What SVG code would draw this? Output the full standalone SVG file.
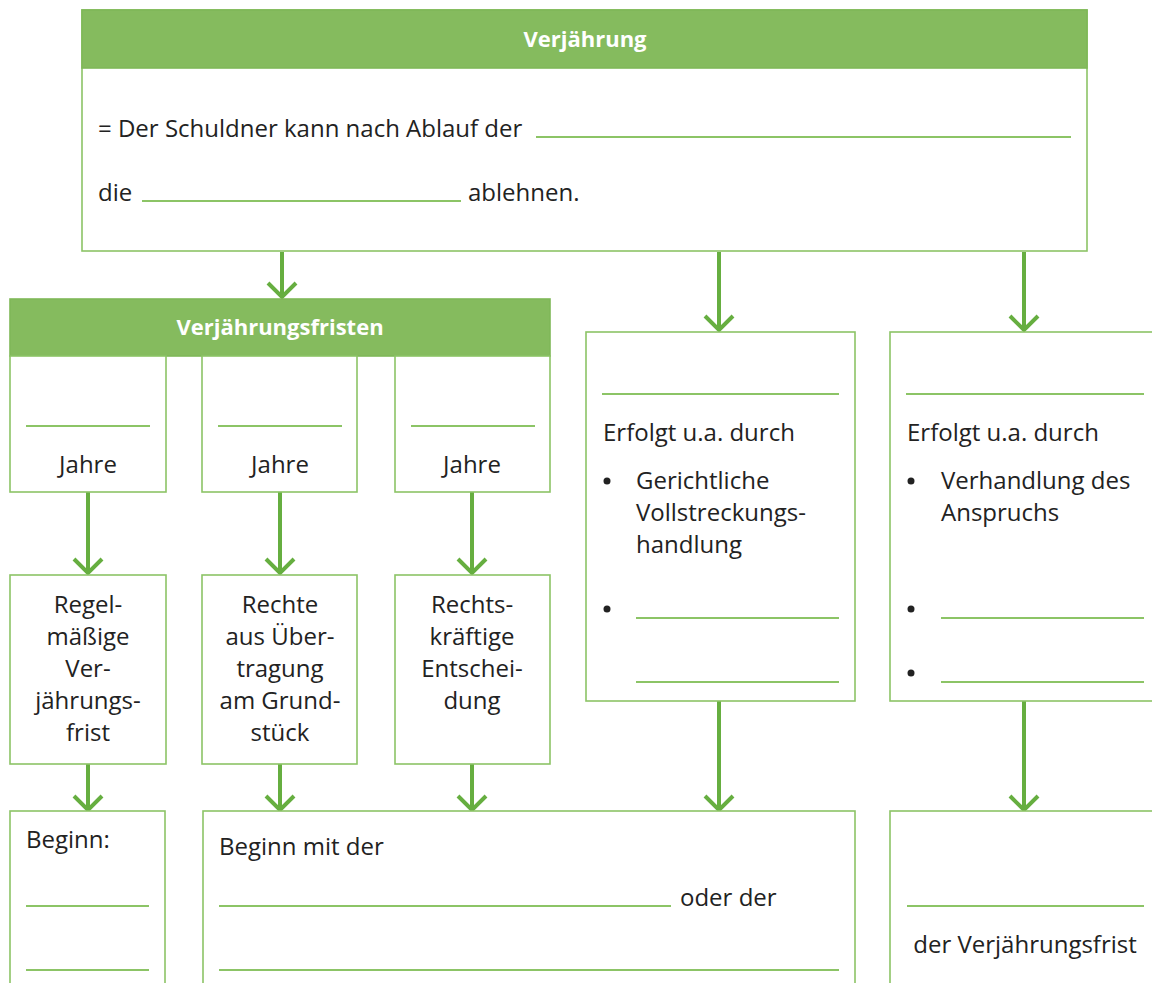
<svg xmlns="http://www.w3.org/2000/svg" width="1152" height="983" viewBox="0 0 1152 983">
<defs>
<style>
.box{fill:#fff;stroke:#8cc466;stroke-width:1.6}
.head{fill:#85bb5e;stroke:#7fb858;stroke-width:1.6}
.ht{font-family:"Open Sans","Liberation Sans",sans-serif;font-size:22px;font-weight:bold;fill:#fff;text-anchor:middle}
.t{font-family:"Open Sans","Liberation Sans",sans-serif;font-size:24px;fill:#222}
.c{text-anchor:middle}
.ul{stroke:#8cc466;stroke-width:2}
.arr{stroke:#66ae40;stroke-width:4;fill:none}
</style>
<marker id="chev" markerUnits="userSpaceOnUse" markerWidth="24" markerHeight="36" viewBox="-20 -18 24 36" refX="0" refY="0" orient="auto">
<path d="M-14,-13 L0,1 L14,-13" fill="none" stroke="#66ae40" stroke-width="4" transform="rotate(-90)"/>
</marker>
</defs>
<rect width="1152" height="983" fill="#fff"/>

<g id="connectors">
<line class="arr" x1="282" y1="252" x2="282" y2="296" marker-end="url(#chev)"/>
<line class="arr" x1="719" y1="252" x2="719" y2="329" marker-end="url(#chev)"/>
<line class="arr" x1="1024" y1="252" x2="1024" y2="329" marker-end="url(#chev)"/>
<line class="arr" x1="88" y1="492" x2="88" y2="572" marker-end="url(#chev)"/>
<line class="arr" x1="280" y1="492" x2="280" y2="572" marker-end="url(#chev)"/>
<line class="arr" x1="472" y1="492" x2="472" y2="572" marker-end="url(#chev)"/>
<line class="arr" x1="88" y1="764" x2="88" y2="809" marker-end="url(#chev)"/>
<line class="arr" x1="280" y1="764" x2="280" y2="809" marker-end="url(#chev)"/>
<line class="arr" x1="472" y1="764" x2="472" y2="809" marker-end="url(#chev)"/>
<line class="arr" x1="719" y1="701" x2="719" y2="809" marker-end="url(#chev)"/>
<line class="arr" x1="1024" y1="701" x2="1024" y2="809" marker-end="url(#chev)"/>
</g>

<g id="verjaehrung">
<rect class="box" x="82" y="10" width="1005" height="241"/>
<rect class="head" x="82" y="10" width="1005" height="58"/>
<text class="ht" x="585" y="47">Verjährung</text>
<text class="t" x="98" y="137">= Der Schuldner kann nach Ablauf der</text>
<line class="ul" x1="536" y1="137" x2="1071" y2="137"/>
<text class="t" x="98" y="201">die</text>
<line class="ul" x1="142" y1="201" x2="461" y2="201"/>
<text class="t" x="468" y="201">ablehnen.</text>
</g>

<g id="fristen">
<rect class="head" x="10" y="299" width="540" height="57"/>
<text class="ht" x="280" y="335">Verjährungsfristen</text>
</g>

<g id="jahre1">
<rect class="box" x="10" y="356" width="156" height="136"/>
<line class="ul" x1="26" y1="426" x2="150" y2="426"/>
<text class="t c" x="88" y="473">Jahre</text>
</g>
<g id="jahre2">
<rect class="box" x="202" y="356" width="155" height="136"/>
<line class="ul" x1="218" y1="426" x2="342" y2="426"/>
<text class="t c" x="280" y="473">Jahre</text>
</g>
<g id="jahre3">
<rect class="box" x="395" y="356" width="155" height="136"/>
<line class="ul" x1="411" y1="426" x2="535" y2="426"/>
<text class="t c" x="472" y="473">Jahre</text>
</g>

<g id="regel">
<rect class="box" x="10" y="575" width="156" height="189"/>
<text class="t c" x="88" y="613">Regel-</text>
<text class="t c" x="88" y="645">mäßige</text>
<text class="t c" x="88" y="677">Ver-</text>
<text class="t c" x="88" y="709">jährungs-</text>
<text class="t c" x="88" y="741">frist</text>
</g>
<g id="rechte">
<rect class="box" x="202" y="575" width="155" height="189"/>
<text class="t c" x="280" y="613">Rechte</text>
<text class="t c" x="280" y="645">aus Über-</text>
<text class="t c" x="280" y="677">tragung</text>
<text class="t c" x="280" y="709">am Grund-</text>
<text class="t c" x="280" y="741">stück</text>
</g>
<g id="rechtskraeftig">
<rect class="box" x="395" y="575" width="155" height="189"/>
<text class="t c" x="472" y="613">Rechts-</text>
<text class="t c" x="472" y="645">kräftige</text>
<text class="t c" x="472" y="677">Entschei-</text>
<text class="t c" x="472" y="709">dung</text>
</g>

<g id="hemmung">
<rect class="box" x="586" y="332" width="269" height="369"/>
<line class="ul" x1="602" y1="394" x2="839" y2="394"/>
<text class="t" x="603" y="441">Erfolgt u.a. durch</text>
<circle cx="607" cy="481" r="3.5" fill="#222"/>
<text class="t" x="636" y="489">Gerichtliche</text>
<text class="t" x="636" y="521">Vollstreckungs-</text>
<text class="t" x="636" y="553">handlung</text>
<circle cx="607" cy="609" r="3.5" fill="#222"/>
<line class="ul" x1="636" y1="618" x2="839" y2="618"/>
<line class="ul" x1="636" y1="682" x2="839" y2="682"/>
</g>

<g id="neubeginn">
<rect class="box" x="890" y="332" width="270" height="369"/>
<line class="ul" x1="906" y1="394" x2="1144" y2="394"/>
<text class="t" x="907" y="441">Erfolgt u.a. durch</text>
<circle cx="911" cy="481" r="3.5" fill="#222"/>
<text class="t" x="941" y="489">Verhandlung des</text>
<text class="t" x="941" y="521">Anspruchs</text>
<circle cx="911" cy="609" r="3.5" fill="#222"/>
<line class="ul" x1="941" y1="618" x2="1144" y2="618"/>
<circle cx="911" cy="673" r="3.5" fill="#222"/>
<line class="ul" x1="941" y1="682" x2="1144" y2="682"/>
</g>

<g id="beginn1">
<rect class="box" x="10" y="811" width="155" height="190"/>
<text class="t" x="26" y="848">Beginn:</text>
<line class="ul" x1="26" y1="906" x2="149" y2="906"/>
<line class="ul" x1="26" y1="970" x2="149" y2="970"/>
</g>

<g id="beginn2">
<rect class="box" x="203" y="811" width="652" height="190"/>
<text class="t" x="219" y="855">Beginn mit der</text>
<line class="ul" x1="219" y1="906" x2="671" y2="906"/>
<text class="t" x="680" y="906">oder der</text>
<line class="ul" x1="219" y1="970" x2="839" y2="970"/>
</g>

<g id="ende">
<rect class="box" x="890" y="811" width="270" height="190"/>
<line class="ul" x1="907" y1="906" x2="1144" y2="906"/>
<text class="t c" x="1025" y="953">der Verjährungsfrist</text>
</g>
</svg>
